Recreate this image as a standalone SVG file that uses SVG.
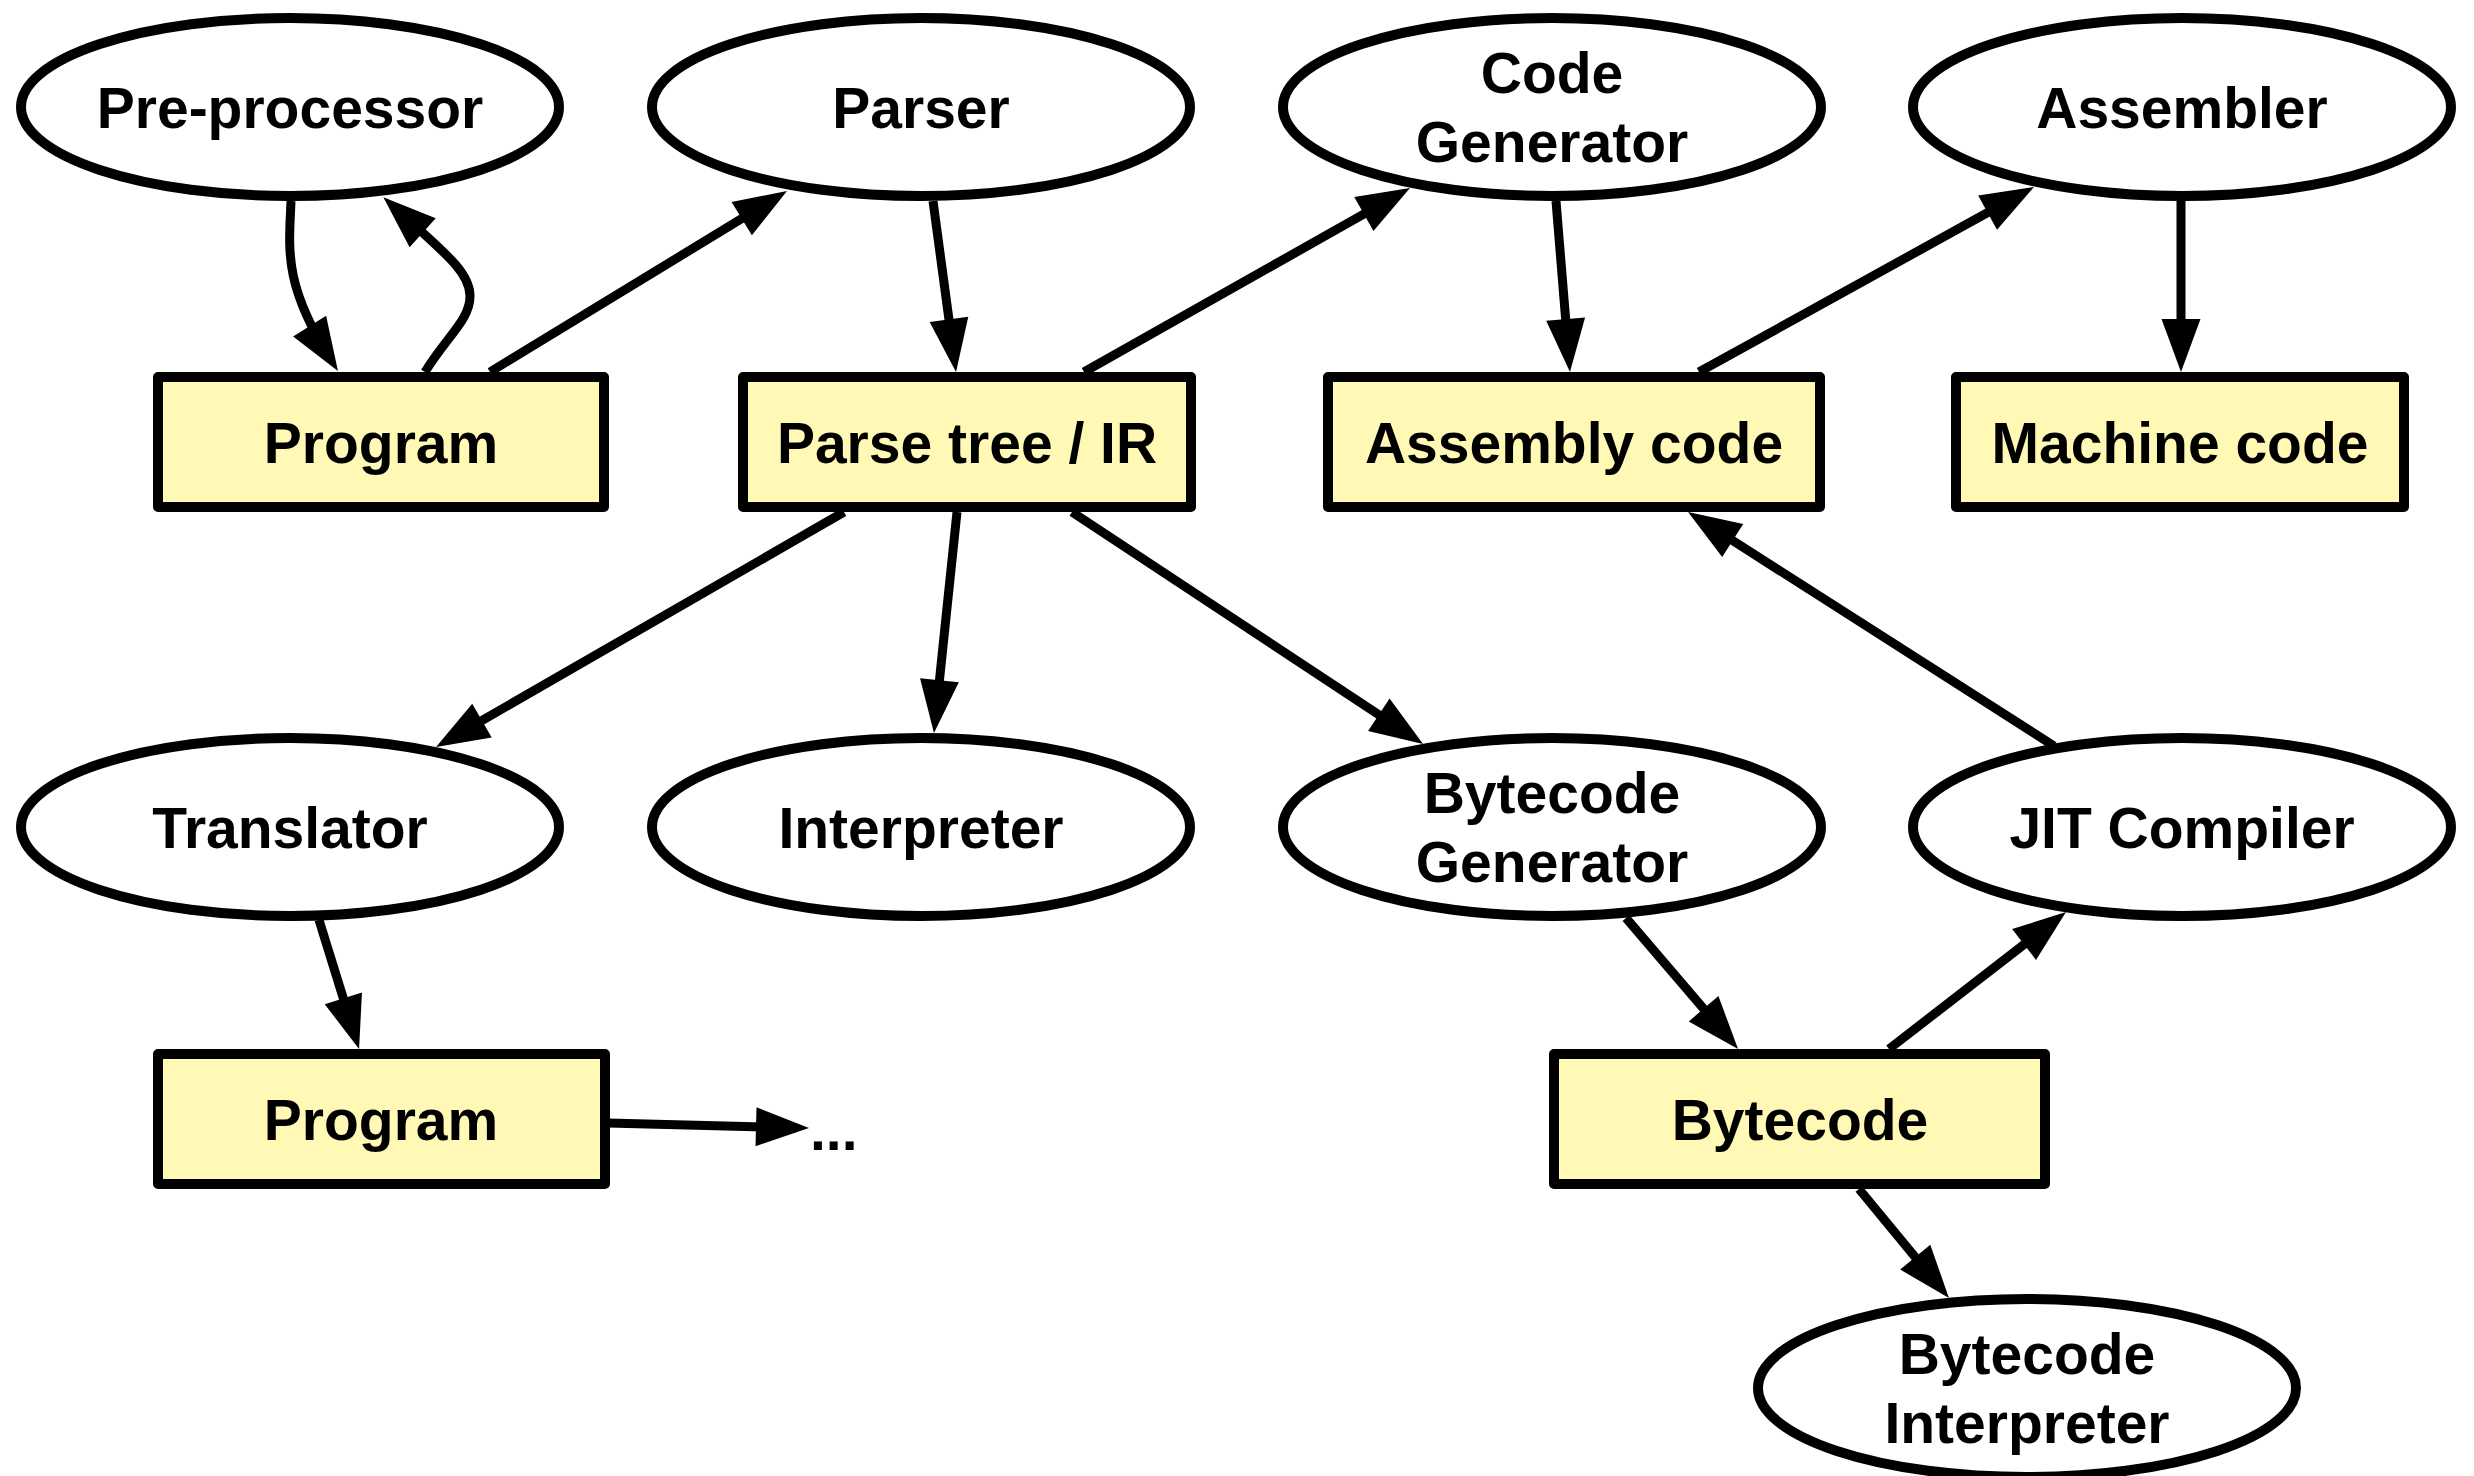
<svg xmlns="http://www.w3.org/2000/svg" width="2474" height="1476" viewBox="0 0 2474 1476">
  <style>
    .proc ellipse { fill: #ffffff; stroke: #000000; stroke-width: 10; }
    .data rect { fill: #fff9b5; stroke: #000000; stroke-width: 10; stroke-linejoin: round; }
    text { font-family: "Liberation Sans", Arial, Helvetica, sans-serif; font-weight: bold; font-size: 57px; fill: #000000; text-anchor: middle; }
    .edges path { fill: none; stroke: #000000; stroke-width: 9; marker-end: url(#arrow); }
  </style>
  <defs>
    <marker id="arrow" markerUnits="userSpaceOnUse" viewBox="0 -20 54 40" refX="40" refY="0" markerWidth="54" markerHeight="40" orient="auto" overflow="visible">
      <path d="M0,-19.5 L53,0 L0,19.5 z" fill="#000000"/>
    </marker>
  </defs>

  <rect x="0" y="0" width="2474" height="1476" fill="#ffffff"/>

  <!-- connectors -->
  <g id="edges" class="edges">
    <path d="M291,201 C289,250 283,284 331,360"/>
    <path d="M425,372 C447,336 470,320 470,296 C470,272 445,253 393,206"/>
    <path d="M490,372 L775.9,197.8"/>
    <path d="M933,201 L954.3,359.1"/>
    <path d="M1084,372 L1398.7,194.4"/>
    <path d="M1556,201 L1568.9,359"/>
    <path d="M1699,372 L2022.6,193.3"/>
    <path d="M2181,201 L2181,359"/>
    <path d="M844,512 L447.3,740.5"/>
    <path d="M957,512 L935.3,720.1"/>
    <path d="M1072,512 L1412.2,736.8"/>
    <path d="M2054,746 L1699,519"/>
    <path d="M319,920 L355.2,1036.6"/>
    <path d="M608,1123 L796,1127.7"/>
    <path d="M1626,918 L1729.6,1039.1"/>
    <path d="M1889,1049 L2055.7,920"/>
    <path d="M1859,1189 L1940.7,1288"/>
  </g>

  <!-- processing steps -->
  <g id="preprocessor" class="proc">
    <ellipse cx="290" cy="107" rx="269" ry="89"/>
    <text x="290" y="128">Pre-processor</text>
  </g>
  <g id="parser" class="proc">
    <ellipse cx="921" cy="107" rx="269" ry="89"/>
    <text x="921" y="128">Parser</text>
  </g>
  <g id="codegen" class="proc">
    <ellipse cx="1552" cy="107" rx="269" ry="89"/>
    <text x="1552" y="93">Code</text>
    <text x="1552" y="162">Generator</text>
  </g>
  <g id="assembler" class="proc">
    <ellipse cx="2182" cy="107" rx="269" ry="89"/>
    <text x="2182" y="128">Assembler</text>
  </g>
  <g id="translator" class="proc">
    <ellipse cx="290" cy="827" rx="269" ry="89"/>
    <text x="290" y="848">Translator</text>
  </g>
  <g id="interpreter" class="proc">
    <ellipse cx="921" cy="827" rx="269" ry="89"/>
    <text x="921" y="848">Interpreter</text>
  </g>
  <g id="bytecodegen" class="proc">
    <ellipse cx="1552" cy="827" rx="269" ry="89"/>
    <text x="1552" y="813">Bytecode</text>
    <text x="1552" y="882">Generator</text>
  </g>
  <g id="jit" class="proc">
    <ellipse cx="2182" cy="827" rx="269" ry="89"/>
    <text x="2182" y="848">JIT Compiler</text>
  </g>
  <g id="bytecodeinterp" class="proc">
    <ellipse cx="2027" cy="1388" rx="269" ry="89"/>
    <text x="2027" y="1374">Bytecode</text>
    <text x="2027" y="1443">Interpreter</text>
  </g>

  <!-- artefacts -->
  <g id="program" class="data">
    <rect x="158" y="377" width="446" height="130"/>
    <text x="381" y="463">Program</text>
  </g>
  <g id="parsetree" class="data">
    <rect x="743" y="377" width="448" height="130"/>
    <text x="967" y="463">Parse tree / IR</text>
  </g>
  <g id="assembly" class="data">
    <rect x="1328" y="377" width="492" height="130"/>
    <text x="1574" y="463">Assembly code</text>
  </g>
  <g id="machinecode" class="data">
    <rect x="1956" y="377" width="448" height="130"/>
    <text x="2180" y="463">Machine code</text>
  </g>
  <g id="program2" class="data">
    <rect x="158" y="1054" width="447" height="130"/>
    <text x="381" y="1140">Program</text>
  </g>
  <g id="bytecode" class="data">
    <rect x="1554" y="1054" width="491" height="130"/>
    <text x="1800" y="1140">Bytecode</text>
  </g>

  <g id="ellipsis">
    <text x="810" y="1150" style="text-anchor: start">...</text>
  </g>
</svg>
